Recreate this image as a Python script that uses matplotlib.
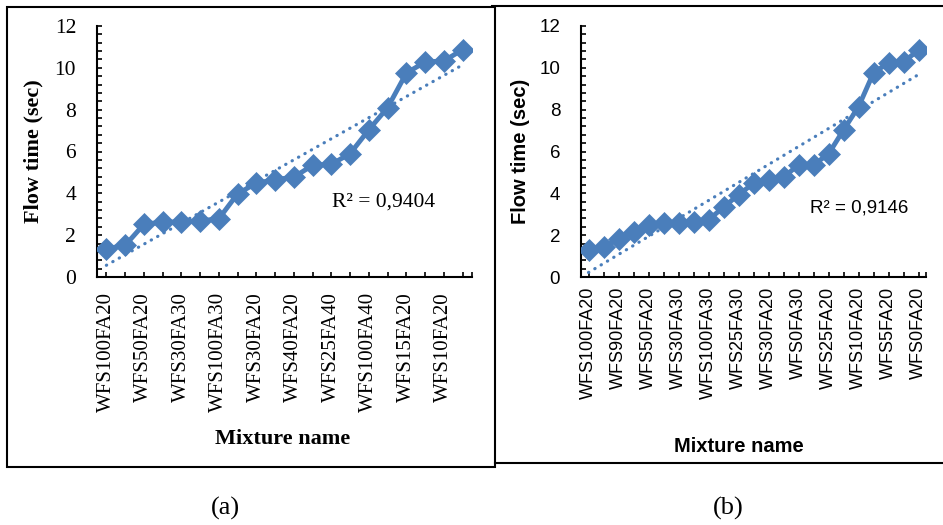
import matplotlib.pyplot as plt
import numpy as np
from matplotlib.lines import Line2D
from matplotlib.patches import Rectangle

# flow time of each mixture, in test order
left_flow = [1.35, 1.51, 2.52, 2.63, 2.63, 2.68, 2.79, 3.98, 4.49, 4.65,
             4.78, 5.34, 5.39, 5.90, 7.04, 8.10, 9.75, 10.28, 10.33, 10.87]
left_names = ["WFS100FA20", "WFS50FA20", "WFS30FA30", "WFS100FA30", "WFS30FA20",
              "WFS40FA20", "WFS25FA40", "WFS100FA40", "WFS15FA20", "WFS10FA20"]
left_r2 = "R² = 0,9404"

right_flow = [1.30, 1.43, 1.81, 2.15, 2.50, 2.58, 2.58, 2.65, 2.73, 3.34, 3.93, 4.48,
              4.64, 4.77, 5.36, 5.36, 5.88, 7.03, 8.14, 9.76, 10.24, 10.29, 10.84]
right_names = ["WFS100FA20", "WFS90FA20", "WFS50FA20", "WFS30FA30", "WFS100FA30",
               "WFS25FA30", "WFS30FA20", "WFS0FA30", "WFS25FA20", "WFS10FA20",
               "WFS5FA20", "WFS0FA20"]
right_r2 = "R² = 0,9146"

blue = "#4a7ebb"
W, H = 943, 525

fig = plt.figure(figsize=(W / 100, H / 100), dpi=100)


def px_box(x0, x1, top, bottom):
    # pixel box -> figure fraction rect
    return [x0 / W, 1 - bottom / H, (x1 - x0) / W, (bottom - top) / H]


def draw_panel(ax, flow, names, r2, font, tick_size, label_size, xpad, r2_pos,
               ylab_x, xlab_xy):
    n = len(flow)
    x = np.arange(n)
    ax.plot(x, flow, color=blue, lw=3.5, marker="D", ms=11, mec=blue, mew=0.5, zorder=3)

    # linear trendline
    k, b = np.polyfit(x, flow, 1)
    ax.plot(x, k * x + b, color=blue, lw=2.3, ls=(0, (0.1, 2.2)),
            dash_capstyle="round", zorder=2)

    ax.set_xlim(-0.5, n - 0.5)
    ax.set_ylim(0, 12)
    ax.set_yticks(np.arange(0, 13, 2))
    ax.set_yticks(np.arange(0, 12.01, 0.4), minor=True)
    ax.set_xticks(x[::2], names)
    ax.set_xticks(list(x[1::2]) + [n - 0.5], minor=True)

    for s in ["top", "right"]:
        ax.spines[s].set_visible(False)
    for s in ["left", "bottom"]:
        ax.spines[s].set_linewidth(1.5)

    ax.tick_params(which="both", direction="in", length=3.5, width=1.2)
    ax.tick_params(axis="y", which="major", pad=15)
    ax.tick_params(axis="x", which="major", pad=xpad)

    for t in ax.get_xticklabels():
        t.set_rotation(90)
        t.set_fontfamily(font)
        t.set_fontsize(tick_size)
    for t in ax.get_yticklabels():
        t.set_fontfamily(font)
        t.set_fontsize(tick_size + 0.5)

    ax.set_ylabel("Flow time (sec)", fontfamily=font, fontweight="bold",
                  fontsize=label_size)
    ax.set_xlabel("Mixture name", fontfamily=font, fontweight="bold",
                  fontsize=label_size)
    ax.yaxis.set_label_coords(ylab_x, 0.5)
    ax.xaxis.set_label_coords(xlab_xy[0] / W, xlab_xy[1], transform=fig.transFigure)

    ax.text(r2_pos[0], r2_pos[1], r2, transform=ax.transAxes, ha="left",
            va="center", fontfamily=font, fontsize=tick_size + 0.5)
    ax.patch.set_alpha(0)


ax1 = fig.add_axes(px_box(97, 472, 26, 277))
draw_panel(ax1, left_flow, left_names, left_r2, "Liberation Serif", 15, 16, 11,
           (0.627, 0.299), -0.144, (283, 0.183))

ax2 = fig.add_axes(px_box(581, 926, 26, 277))
draw_panel(ax2, right_flow, right_names, right_r2, "Liberation Sans", 13, 14.5, 7,
           (0.664, 0.275), -0.148, (739, 0.168))

# panel frames
fig.add_artist(Rectangle((7 / W, 1 - 467 / H), 488 / W, 460 / H, transform=fig.transFigure,
                         fill=False, lw=1.5, ec="black"))
fig.add_artist(Line2D([492 / W, 1], [1 - 6 / H] * 2, transform=fig.transFigure,
                      lw=1.5, color="black"))
fig.add_artist(Line2D([495 / W, 1], [1 - 463 / H] * 2, transform=fig.transFigure,
                      lw=1.5, color="black"))

fig.text(225 / W, 1 - 508 / H, "(a)", ha="center", va="center",
         fontfamily="Liberation Serif", fontsize=19)
fig.text(728 / W, 1 - 508 / H, "(b)", ha="center", va="center",
         fontfamily="Liberation Serif", fontsize=19)

fig.savefig("out.png", dpi=100)
